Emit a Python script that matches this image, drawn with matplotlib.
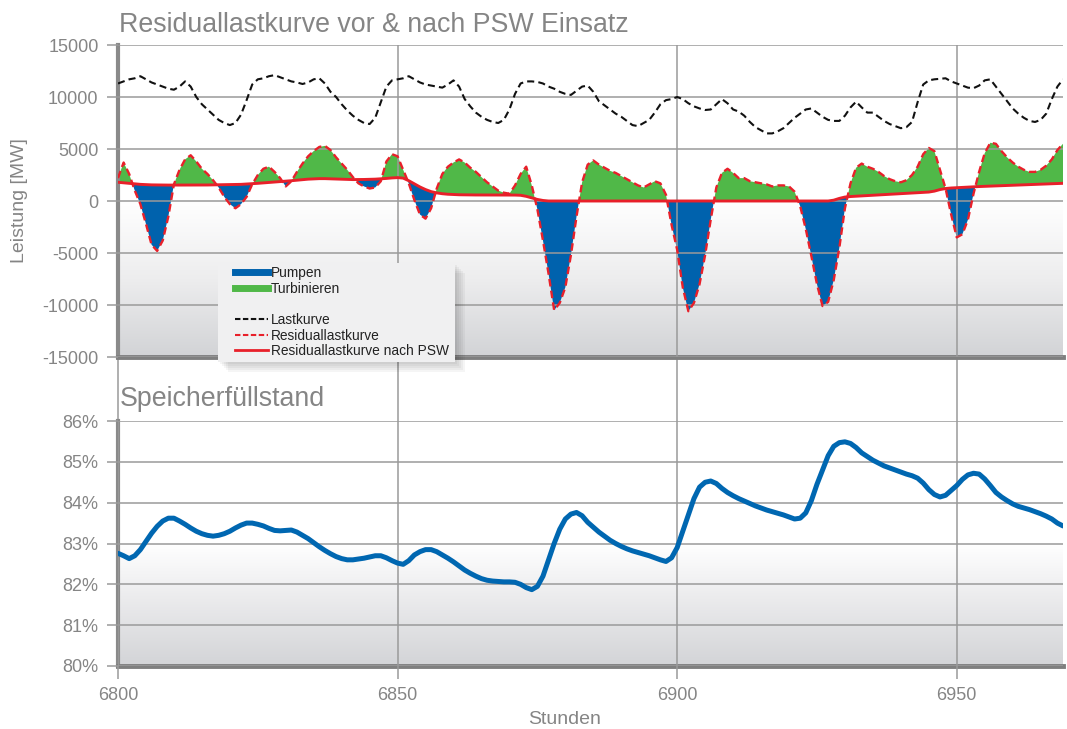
import numpy as np
import matplotlib
matplotlib.use('Agg')
import matplotlib.pyplot as plt
from matplotlib.colors import LinearSegmentedColormap
from matplotlib.lines import Line2D
from matplotlib.patches import Rectangle

plt.rcParams['font.family'] = ['Liberation Sans', 'DejaVu Sans']
plt.rcParams['axes.unicode_minus'] = False

# data (hourly, 6800 .. 6969)
hours = np.arange(6800, 6970)

lastkurve = [
    11300, 11500, 11700, 11800, 12000, 11700, 11400, 11200, 11000, 10800,
    10700, 11000, 11500, 11000, 10000, 9300, 8800, 8300, 7800, 7500,
    7300, 7500, 8300, 9700, 11200, 11700, 11800, 12000, 12100, 11900,
    11700, 11500, 11400, 11250, 11400, 11700, 11800, 11300, 10500, 10000,
    9300, 8700, 8200, 7800, 7500, 7400, 8000, 9500, 11000, 11600,
    11700, 11800, 12000, 11700, 11400, 11200, 11100, 11000, 10900, 11200,
    11600, 11000, 9800, 9100, 8500, 8100, 7800, 7600, 7500, 7800,
    8800, 10300, 11300, 11500, 11500, 11450, 11300, 11000, 10800, 10500,
    10300, 10200, 10600, 11000, 11100, 10500, 9600, 9200, 8800, 8400,
    8100, 7700, 7300, 7200, 7500, 7800, 8500, 9300, 9700, 9800,
    10000, 9800, 9400, 9100, 8900, 8750, 8800, 9300, 9800, 9400,
    8800, 8600, 8200, 7600, 7100, 6800, 6500, 6500, 6700, 7000,
    7500, 8000, 8400, 8800, 8900, 8500, 8100, 7800, 7700, 7700,
    8200, 9000, 9550, 9000, 8500, 8500, 8100, 7700, 7400, 7200,
    7000, 7100, 7600, 9500, 11200, 11600, 11700, 11750, 11800, 11500,
    11300, 11100, 10900, 10850, 11100, 11600, 11700, 11000, 10300, 9600,
    8900, 8400, 8000, 7700, 7600, 7800, 8400, 9800, 11000, 11700,
]

residuallast = [
    2200, 3700, 2600, 1000, -300, -2200, -4200, -4800, -3800, -1500,
    1600, 3000, 4000, 4400, 3800, 3100, 2600, 2000, 1300, 400,
    -300, -700, -300, 400, 1600, 2500, 3100, 3300, 2800, 2200,
    1400, 1900, 2800, 3600, 4300, 4800, 5200, 5300, 4900, 4200,
    3600, 3000, 2300, 1700, 1400, 1200, 1300, 1900, 3800, 4500,
    4300, 3000, 1700, 100, -1300, -1700, -700, 1200, 2600, 3300,
    3700, 4000, 3700, 3200, 2800, 2300, 1800, 1400, 1000, 800,
    700, 1500, 2600, 3300, 1500, -800, -3800, -7000, -10500, -9800,
    -8300, -5200, -1500, 1800, 3500, 3900, 3500, 3200, 2900, 2700,
    2400, 2100, 1800, 1500, 1300, 1600, 1900, 1700, 600, -2300,
    -4700, -8300, -10600, -9800, -8000, -5200, -1800, 1300, 2700, 3100,
    2700, 2200, 2200, 1900, 1800, 1700, 1600, 1400, 1500, 1500,
    1400, 900, -500, -2700, -5300, -8000, -10100, -9700, -7600, -4500,
    -700, 1700, 3200, 3600, 3300, 3100, 2800, 2400, 2100, 1900,
    1800, 2000, 2500, 3300, 4500, 5100, 4800, 3000, 1200, -1300,
    -3500, -3200, -1800, 700, 2800, 4600, 5600, 5500, 4800, 4200,
    3700, 3300, 3000, 2800, 2800, 3000, 3400, 4000, 4900, 5500,
]

residual_nach_psw = [
    1800, 1750, 1700, 1650, 1600, 1570, 1550, 1540, 1530, 1530,
    1530, 1530, 1530, 1530, 1530, 1540, 1540, 1550, 1550, 1560,
    1570, 1580, 1600, 1630, 1660, 1700, 1740, 1780, 1820, 1860,
    1900, 1950, 2000, 2050, 2100, 2130, 2150, 2150, 2130, 2100,
    2080, 2060, 2060, 2060, 2070, 2080, 2100, 2130, 2170, 2220,
    2250, 2200, 1950, 1650, 1350, 1100, 900, 780, 700, 650,
    620, 600, 590, 580, 580, 580, 580, 580, 580, 580,
    580, 570, 550, 450, 300, 150, 50, 0, 0, 0,
    0, 0, 0, 0, 0, 0, 0, 0, 0, 0,
    0, 0, 0, 0, 0, 0, 0, 0, 0, 0,
    0, 0, 0, 0, 0, 0, 0, 0, 0, 0,
    0, 0, 0, 0, 0, 0, 0, 0, 0, 0,
    0, 0, 0, 0, 0, 0, 0, 0, 80, 250,
    380, 430, 460, 490, 520, 550, 580, 610, 640, 670,
    700, 730, 760, 790, 820, 860, 950, 1100, 1200, 1250,
    1280, 1310, 1340, 1370, 1390, 1410, 1430, 1450, 1470, 1490,
    1510, 1530, 1550, 1570, 1590, 1610, 1630, 1650, 1670, 1700,
]

speicher = [
    82.76, 82.70, 82.63, 82.70, 82.85, 83.05, 83.25, 83.42, 83.55, 83.62,
    83.62, 83.55, 83.47, 83.38, 83.30, 83.24, 83.20, 83.18, 83.20, 83.24,
    83.30, 83.38, 83.45, 83.50, 83.50, 83.47, 83.43, 83.37, 83.32, 83.31,
    83.32, 83.33, 83.28, 83.20, 83.12, 83.02, 82.92, 82.83, 82.75, 82.68,
    82.63, 82.60, 82.60, 82.62, 82.64, 82.67, 82.70, 82.70, 82.65, 82.58,
    82.52, 82.49, 82.58, 82.72, 82.80, 82.85, 82.85, 82.80, 82.72, 82.64,
    82.55, 82.45, 82.35, 82.27, 82.20, 82.14, 82.10, 82.08, 82.07, 82.06,
    82.06, 82.05, 82.00, 81.92, 81.87, 81.95, 82.20, 82.60, 83.00, 83.35,
    83.60, 83.72, 83.76, 83.68, 83.52, 83.40, 83.28, 83.18, 83.08, 83.00,
    82.93, 82.87, 82.82, 82.78, 82.74, 82.70, 82.65, 82.60, 82.56, 82.65,
    82.90, 83.30, 83.70, 84.10, 84.38, 84.50, 84.53, 84.47, 84.35, 84.25,
    84.17, 84.10, 84.04, 83.98, 83.92, 83.87, 83.82, 83.78, 83.74, 83.70,
    83.65, 83.60, 83.62, 83.75, 84.05, 84.45, 84.80, 85.15, 85.38, 85.47,
    85.49, 85.45, 85.35, 85.22, 85.13, 85.04, 84.97, 84.90, 84.85, 84.80,
    84.75, 84.70, 84.66, 84.60, 84.48, 84.32, 84.20, 84.14, 84.18, 84.30,
    84.42, 84.57, 84.68, 84.72, 84.70, 84.58, 84.42, 84.25, 84.14, 84.05,
    83.97, 83.91, 83.87, 83.83, 83.78, 83.73, 83.67, 83.60, 83.50, 83.43,
]

leistung_ticks = [-15000, -10000, -5000, 0, 5000, 10000, 15000]
prozent_ticks = [80, 81, 82, 83, 84, 85, 86]
stunden_ticks = [6800, 6850, 6900, 6950]

BLUE = '#0062ad'
GREEN = '#50b848'
RED = '#e8202a'
GRID = '#9a9a9a'
TXT = '#858585'

resid = np.array(residuallast)
after = np.array(residual_nach_psw)

W, H = 1067, 729
fig = plt.figure(figsize=(W / 100, H / 100), dpi=100)


def box(l, t, r, b):
    return [l / W, 1 - b / H, (r - l) / W, (b - t) / H]


ax1 = fig.add_axes(box(118, 45, 1063, 357))
ax2 = fig.add_axes(box(118, 421, 1063, 666))
x0, x1 = 6800, 6969
grad = np.linspace(0, 1, 256).reshape(-1, 1)

# --- top panel
cm1 = LinearSegmentedColormap.from_list('g1', ['#ffffff', '#ededee', '#d2d3d6'])
ax1.imshow(grad, extent=[x0, x1, -15000, 0], aspect='auto', cmap=cm1, zorder=0)
ax1.fill_between(hours, resid, after, where=resid >= after, interpolate=True,
                 color=GREEN, lw=0, zorder=2)
ax1.fill_between(hours, resid, after, where=resid <= after, interpolate=True,
                 color=BLUE, lw=0, zorder=2)
ax1.plot(hours, lastkurve, color='#111111', lw=1.5, ls=(0, (3.4, 2)), zorder=4)
ax1.plot(hours, after, color=RED, lw=2.1, zorder=4)
ax1.plot(hours, resid, color=RED, lw=1.7, ls=(0, (3.2, 1.8)), zorder=5)
ax1.set_xlim(x0, x1)
ax1.set_ylim(-15000, 15000)
ax1.set_yticks(leistung_ticks)
ax1.set_xticks(stunden_ticks[1:])
ax1.tick_params(axis='x', length=0, labelbottom=False)
for x in stunden_ticks:
    ax1.axvline(x, ymin=-0.205, ymax=0, color=GRID, lw=1.1, clip_on=False)

# --- bottom panel
cm2 = LinearSegmentedColormap.from_list('g2', ['#ffffff', '#e9e9eb', '#d3d4d7'])
ax2.imshow(grad, extent=[x0, x1, 80, 83], aspect='auto', cmap=cm2, zorder=0)
ax2.plot(hours, speicher, color='#0067b1', lw=3.6, solid_capstyle='round',
         solid_joinstyle='round', zorder=4)
ax2.set_xlim(x0, x1)
ax2.set_ylim(80, 86)
ax2.set_yticks(prozent_ticks)
ax2.set_yticklabels([f'{v}%' for v in prozent_ticks])
ax2.set_xticks(stunden_ticks)
ax2.tick_params(axis='x', length=9, width=1.1, color=GRID, pad=6)

for ax in (ax1, ax2):
    ax.set_axisbelow(False)
    ax.grid(True, color=GRID, lw=1.1)
    ax.spines['top'].set_visible(False)
    ax.spines['right'].set_visible(False)
    ax.spines['left'].set_color('#8a8a8a')
    ax.spines['left'].set_linewidth(3)
    ax.spines['bottom'].set_color('#7f7f7f')
    ax.spines['bottom'].set_linewidth(3.5)
    ax.tick_params(axis='y', length=8, width=1.1, color=GRID, pad=6)
    ax.tick_params(labelsize=13, labelcolor=TXT)
    ax.set_facecolor('white')

# titles and labels
fig.text(119 / W, 1 - 32 / H, 'Residuallastkurve vor & nach PSW Einsatz',
         fontsize=19.3, color=TXT, va='baseline')
fig.text(120 / W, 1 - 406 / H, 'Speicherfüllstand',
         fontsize=19.3, color=TXT, va='baseline')
fig.text(19 / W, 1 - 201 / H, 'Leistung [MW]', rotation=90,
         fontsize=14, color=TXT, va='center', ha='center')
fig.text(565 / W, 1 - 719 / H, 'Stunden', fontsize=14, color=TXT,
         va='center', ha='center')

# legend box with soft shadow
lb = box(218, 263, 455, 362)
for i in range(5):
    d = 2 + 2 * i
    fig.add_artist(Rectangle((lb[0] + d / W, lb[1] - d / H), lb[2], lb[3],
                             transform=fig.transFigure, facecolor='black',
                             alpha=0.04, lw=0, zorder=8))
fig.add_artist(Rectangle((lb[0], lb[1]), lb[2], lb[3], transform=fig.transFigure,
                         facecolor='#f0f0f1', lw=0, zorder=9))

handles = [
    Line2D([], [], color=BLUE, lw=5),
    Line2D([], [], color=GREEN, lw=5),
    Line2D([], [], lw=0),
    Line2D([], [], color='#111111', lw=1.5, ls=(0, (2.6, 1.2))),
    Line2D([], [], color=RED, lw=1.5, ls=(0, (2.6, 1.2))),
    Line2D([], [], color=RED, lw=2),
]
labels = ['Pumpen', 'Turbinieren', ' ', 'Lastkurve', 'Residuallastkurve',
          'Residuallastkurve nach PSW']
leg = fig.legend(handles, labels, loc='upper left', bbox_to_anchor=(235 / W, 1 - 266 / H),
                 frameon=False, fontsize=9.9, handlelength=2.4, handletextpad=0.2,
                 labelspacing=0.12, borderpad=0, borderaxespad=0)
leg.set_zorder(10)
for t in leg.get_texts():
    t.set_color('#222222')

fig.savefig('out.png', dpi=100)
